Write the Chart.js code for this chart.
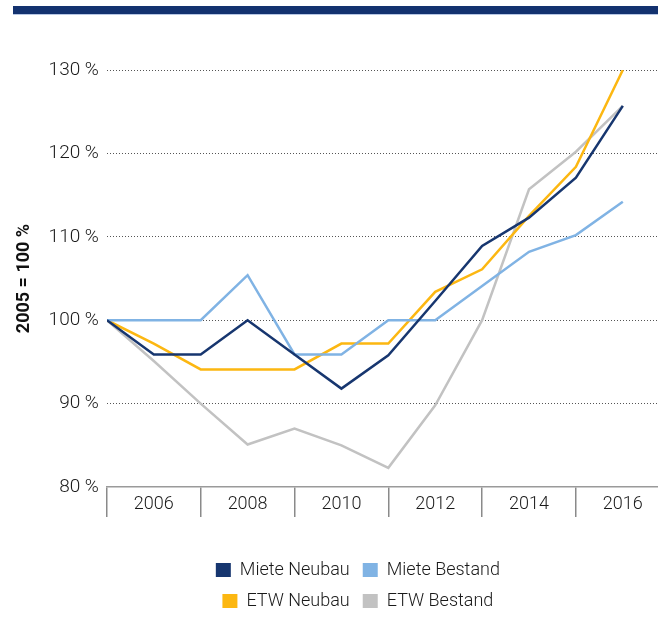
<!DOCTYPE html>
<html>
<head>
<meta charset="utf-8">
<script src="https://cdn.jsdelivr.net/npm/chart.js@4.4.1/dist/chart.umd.min.js"></script>
<style>
  html, body { margin: 0; padding: 0; background: #fff; overflow: hidden; }
  #bar { position: absolute; left: 13px; top: 6px; width: 645px; height: 8px; background: #13326f; border-bottom: 1px solid #b7c7e4; }
  #wrap { position: absolute; left: 0; top: 0; width: 658px; height: 634px; }
</style>
</head>
<body>
<div id="bar"></div>
<div id="wrap"><canvas id="c" width="658" height="634"></canvas></div>
<script>
const years = [2005, 2006, 2007, 2008, 2009, 2010, 2011, 2012, 2013, 2014, 2015, 2016];
const labelYears = [2006, 2008, 2010, 2012, 2014, 2016];
const yTicks = [80, 90, 100, 110, 120, 130];
const yTitle = '2005 = 100 %';
const seriesNames = ['Miete Neubau', 'Miete Bestand', 'ETW Neubau', 'ETW Bestand'];
const mieteNeubau   = [100, 95.9, 95.9, 100, 95.9, 91.8, 95.8, 102.3, 108.9, 112.3, 117.1, 125.7];
const mieteBestand  = [100, 100, 100, 105.4, 95.9, 95.9, 100, 100, 104.1, 108.2, 110.2, 114.2];
const etwNeubau     = [100, 97.2, 94.1, 94.1, 94.1, 97.2, 97.2, 103.4, 106.1, 112.5, 118.4, 130.0];
const etwBestand    = [100, 95.1, 90.0, 85.1, 87.0, 85.0, 82.3, 89.8, 100.0, 115.7, 120.2, 125.7];
const colors = ['#17366f', '#80b3e4', '#fcb711', '#c2c2c2'];

const FONT = "Roboto, 'Liberation Sans', sans-serif";
const allSeries = [mieteNeubau, mieteBestand, etwNeubau, etwBestand];

const datasets = allSeries.map((vals, i) => ({
  label: seriesNames[i],
  data: years.map((y, j) => ({ x: y, y: vals[j] })),
  borderColor: colors[i],
  backgroundColor: colors[i],
  borderWidth: 2.5,
  pointRadius: 0,
  tension: 0,
  fill: false
}));

const LEGEND_W = 340;
const legendPatch = {
  id: 'legendPatch',
  afterInit(chart) {
    const lg = chart.legend;
    const orig = lg.update.bind(lg);
    lg.update = (mw, mh, m) => orig(Math.min(mw, LEGEND_W), mh, m);
  },
  afterLayout(chart) {
    const lg = chart.legend;
    const center = chart.chartArea.left + 251;
    lg.left = center - LEGEND_W / 2;
    lg.right = center + LEGEND_W / 2;
    lg.width = LEGEND_W;
  }
};

new Chart(document.getElementById('c'), {
  type: 'line',
  data: { datasets },
  plugins: [legendPatch],
  options: {
    responsive: false,
    animation: false,
    layout: { padding: { top: 70, left: 14, right: 0, bottom: 14 } },
    scales: {
      x: {
        type: 'linear',
        min: 2005,
        max: 2016.75,
        afterBuildTicks(scale) { scale.ticks = years.map(v => ({ value: v })); },
        afterFit(scale) { scale.height = 61; },
        grid: {
          drawOnChartArea: false,
          drawTicks: true,
          tickLength: 30,
          lineWidth: 1.5,
          color: (ctx) => (ctx.tick && (ctx.tick.value % 2 === 1 || ctx.tick.value === years[0])) ? '#8a8a8a' : 'rgba(0,0,0,0)'
        },
        border: { display: true, color: '#9a9a9a', width: 1.5 },
        ticks: {
          autoSkip: false,
          maxRotation: 0,
          padding: -23,
          color: '#1a1a1a',
          font: { family: FONT, size: 18, weight: 300 },
          callback: (v) => labelYears.includes(v) ? String(v) : ''
        }
      },
      y: {
        min: yTicks[0],
        max: yTicks[yTicks.length - 1],
        afterBuildTicks(scale) { scale.ticks = yTicks.map(v => ({ value: v })); },
        grid: {
          drawTicks: false,
          color: (ctx) => (ctx.tick && ctx.tick.value === yTicks[0]) ? 'rgba(0,0,0,0)' : '#555',
          lineWidth: 1
        },
        border: { display: false, dash: [1, 2] },
        ticks: {
          padding: 8,
          color: '#1a1a1a',
          font: { family: FONT, size: 19, weight: 300 },
          callback: (v) => v + ' %'
        },
        title: {
          display: true,
          text: yTitle,
          color: '#111',
          padding: { top: 0, bottom: 5 },
          font: { family: FONT, size: 18, weight: 'bold' }
        }
      }
    },
    plugins: {
      tooltip: { enabled: false },
      legend: {
        position: 'bottom',
        labels: {
          boxWidth: 15,
          boxHeight: 14,
          padding: 13,
          color: '#1a1a1a',
          font: { family: FONT, size: 18, weight: 300 },
          generateLabels: (chart) => Chart.defaults.plugins.legend.labels.generateLabels(chart).map(l => ({ ...l, lineWidth: 0 }))
        }
      }
    }
  }
});
</script>
</body>
</html>
